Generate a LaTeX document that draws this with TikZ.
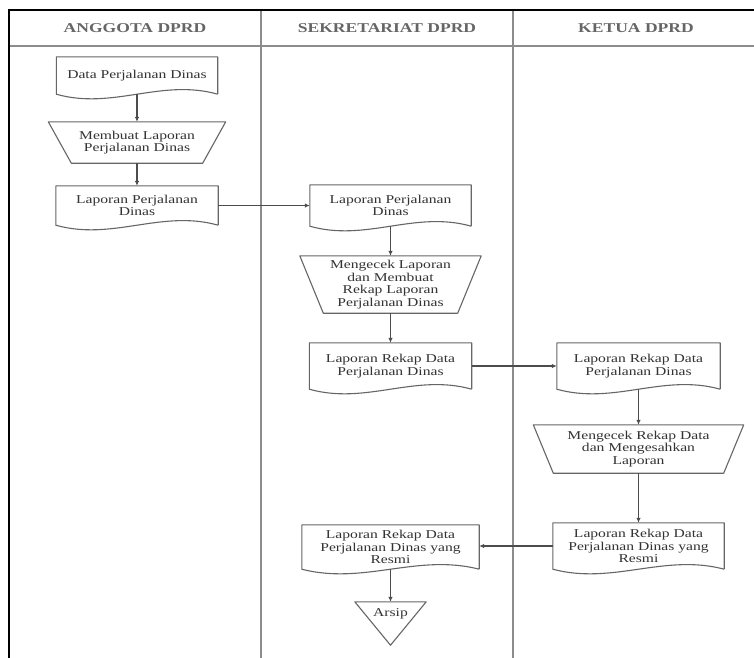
\documentclass[tikz,border=0pt]{standalone}
\usepackage{fontspec}
\setmainfont{Liberation Serif}[FakeStretch=1.3]
\usetikzlibrary{calc,arrows.meta}
\begin{document}
\begin{tikzpicture}[x=1pt,y=-1pt,
  frame/.style={line width=1.6pt,black},
  lane/.style={line width=2.2pt,black!45},
  shp/.style={draw=none,inner sep=0pt,align=center,font=\fontsize{12}{12.6}\selectfont,text=black!80},
  outline/.style={draw=black!60,line width=1.1pt,line join=round},
  arr/.style={draw=black!70,line width=1.1pt,-{Latex[length=5pt,width=4.5pt]}},
  hdr/.style={font=\bfseries\fontsize{13.5}{13.5}\selectfont,text=black!60}]
\useasboundingbox (0,0) rectangle (754,657);
\fill[white] (0,0) rectangle (754,657);
% swimlanes
\draw[lane] (9,46) -- (760,46);
\draw[lane] (261,10) -- (261,662);
\draw[lane] (513,10) -- (513,662);
\draw[frame] (760,10) -- (9,10) -- (9,662);
\node[hdr] (h1) at (135,28) {ANGGOTA DPRD};
\node[hdr] (h2) at (387,28) {SEKRETARIAT DPRD};
\node[hdr] (h3) at (636,28) {KETUA DPRD};
% lane 1
\node[shp,minimum width=161pt,minimum height=37pt] (d1) at (137,75.5) {Data Perjalanan Dinas};
\node[shp,minimum width=131pt,minimum height=41pt] (t1) at (137,142.5) {Membuat Laporan\\Perjalanan Dinas};
\node[shp,minimum width=162pt,minimum height=39pt] (d3) at (137,205.5) {Laporan Perjalanan\\Dinas};
% lane 2
\node[shp,minimum width=161pt,minimum height=41pt] (s1) at (390.5,205.5) {Laporan Perjalanan\\Dinas};
\node[shp,minimum width=134pt,minimum height=57pt] (s2) at (390.5,284.5) {Mengecek Laporan\\dan Membuat\\Rekap Laporan\\Perjalanan Dinas};
\node[shp,minimum width=162pt,minimum height=46pt] (s3) at (390.5,366) {Laporan Rekap Data\\Perjalanan Dinas};
\node[shp,minimum width=177pt,minimum height=44pt] (s4) at (390.5,547) {Laporan Rekap Data\\Perjalanan Dinas yang\\Resmi};
\node[shp,minimum width=71pt,minimum height=24pt] (ar) at (390.5,614) {Arsip};
% lane 3
\node[shp,minimum width=163pt,minimum height=46pt] (k1) at (638.5,366) {Laporan Rekap Data\\Perjalanan Dinas};
\node[shp,minimum width=170pt,minimum height=48pt] (k2) at (638.5,449) {Mengecek Rekap Data\\dan Mengesahkan\\Laporan};
\node[shp,minimum width=171pt,minimum height=46pt] (k3) at (638.5,546) {Laporan Rekap Data\\Perjalanan Dinas yang\\Resmi};
% document outlines
\foreach \n in {d1,d3,s1,s3,k1,k3,s4}{
  \draw[outline] (\n.south east) -- (\n.north east) -- (\n.north west) -- (\n.south west)
    .. controls ($(\n.south west)!0.35!(\n.south east)+(0,-16pt)$) and ($(\n.south west)!0.65!(\n.south east)+(0,16pt)$) .. (\n.south east);
}
% manual operations
\draw[outline] ([xshift=-23pt]t1.north west) -- ([xshift=23pt]t1.north east) -- (t1.south east) -- (t1.south west) -- cycle;
\draw[outline] ([xshift=-23.5pt]s2.north west) -- ([xshift=23.5pt]s2.north east) -- (s2.south east) -- (s2.south west) -- cycle;
\draw[outline] ([xshift=-20pt]k2.north west) -- ([xshift=20pt]k2.north east) -- (k2.south east) -- (k2.south west) -- cycle;
% archive
\draw[outline] (ar.north west) -- (ar.north east) -- ($(ar.south)+(0,-19pt)$) -- cycle;
% connectors
\draw[arr] (d1.south) -- (t1.north);
\draw[arr] (t1.south) -- (d3.north);
\draw[arr] (d3.east) -- (s1.west);
\draw[arr] (s1.south) -- (s2.north);
\draw[arr] (s2.south) -- (s3.north);
\draw[arr] (s3.east) -- (k1.west);
\draw[arr] (k1.south) -- (k2.north);
\draw[arr] (k2.south) -- (k3.north);
\draw[arr] (k3.west) -- (k3.west -| s4.east);
\draw[arr] (s4.south) -- (ar.north);
\end{tikzpicture}
\end{document}
